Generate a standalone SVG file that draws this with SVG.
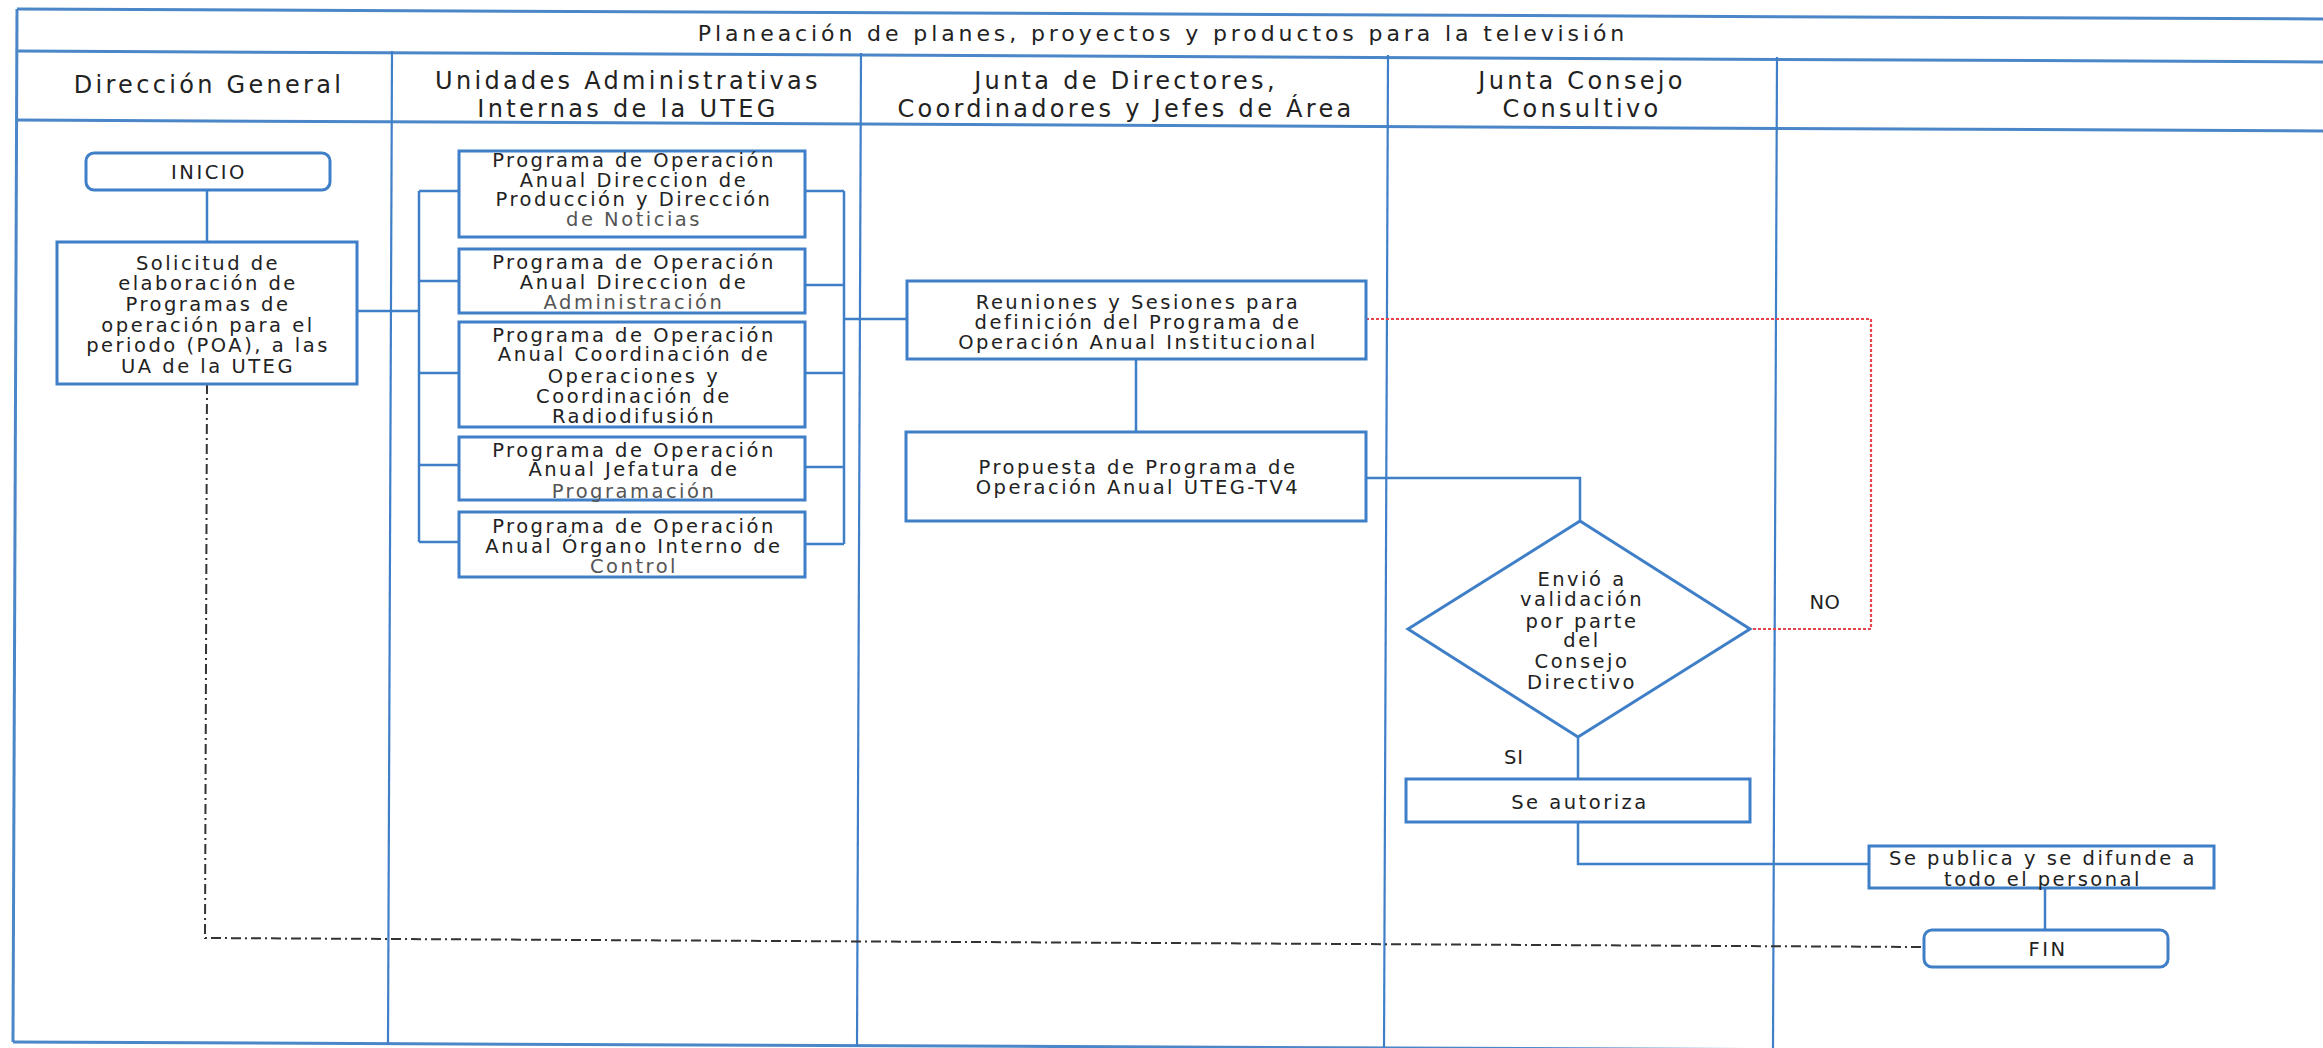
<svg xmlns="http://www.w3.org/2000/svg" width="2323" height="1048" viewBox="0 0 2323 1048">
<style>
.grid{stroke:#4a86c8;stroke-width:3;fill:none}
.div{stroke:#3f7fc8;stroke-width:2.2;fill:none}
.box{stroke:#3f7fc8;stroke-width:3;fill:#ffffff}
.ln{stroke:#3f7fc8;stroke-width:2.5;fill:none}
.red{stroke:#e8434b;stroke-width:2.2;fill:none;stroke-dasharray:3 2}
.dd{stroke:#333333;stroke-width:2;fill:none;stroke-dasharray:10 4 2 4}
text{font-family:"DejaVu Sans","Liberation Sans",sans-serif;fill:#222222;text-anchor:middle}
.t{font-size:22px;letter-spacing:3.9px}
.h{font-size:24px;letter-spacing:3.3px}
.b{font-size:19.5px;letter-spacing:2.5px}
.g{fill:#555555}
</style>
<rect x="0" y="0" width="2323" height="1048" fill="#ffffff"/>
<g id="frame">
<line class="grid" x1="17" y1="9" x2="2323" y2="19"/>
<line class="grid" x1="17" y1="51" x2="2323" y2="62"/>
<line class="grid" x1="17" y1="120" x2="2323" y2="131"/>
<line class="grid" x1="13" y1="1042" x2="2323" y2="1052"/>
<line class="grid" x1="17" y1="9" x2="13" y2="1042"/>
<line class="div" x1="392" y1="51" x2="388" y2="1044"/>
<line class="div" x1="861" y1="53" x2="857" y2="1046"/>
<line class="div" x1="1388" y1="55" x2="1384" y2="1048"/>
<line class="div" x1="1777" y1="57" x2="1773" y2="1048"/>
</g>
<g id="headers">
<text class="t" x="1163" y="41">Planeación de planes, proyectos y productos para la televisión</text>
<text class="h" x="209" y="93">Dirección General</text>
<text class="h" x="628" y="89">Unidades Administrativas</text>
<text class="h" x="628" y="117">Internas de la UTEG</text>
<text class="h" x="1126" y="89">Junta de Directores,</text>
<text class="h" x="1126" y="117">Coordinadores y Jefes de Área</text>
<text class="h" x="1582" y="89">Junta Consejo</text>
<text class="h" x="1582" y="117">Consultivo</text>
</g>
<g id="connectors">
<line class="ln" x1="207" y1="190" x2="207" y2="242"/>
<line class="ln" x1="357" y1="311" x2="419" y2="311"/>
<line class="ln" x1="419" y1="191" x2="419" y2="542"/>
<path class="ln" d="M419 191H459M419 281H459M419 373H459M419 465H459M419 542H459"/>
<path class="ln" d="M805 191H844M805 285H844M805 373H844M805 467H844M805 544H844"/>
<line class="ln" x1="844" y1="191" x2="844" y2="544"/>
<line class="ln" x1="844" y1="319" x2="907" y2="319"/>
<line class="ln" x1="1136" y1="359" x2="1136" y2="432"/>
<polyline class="ln" points="1366,478 1580,478 1580,521"/>
<line class="ln" x1="1578" y1="737" x2="1578" y2="779"/>
<polyline class="ln" points="1578,822 1578,864 1869,864"/>
<line class="ln" x1="2045" y1="888" x2="2045" y2="930"/>
<polyline class="red" points="1366,319 1871,319 1871,629 1750,629"/>
<polyline class="dd" points="207,384 205,938 1924,947"/>
<text class="b" x="1825" y="609" style="letter-spacing:0.5px">NO</text>
<text class="b" x="1514" y="764" style="letter-spacing:1px">SI</text>
</g>
<g id="inicio">
<rect class="box" x="86" y="153" width="244" height="37" rx="8"/>
<text class="b" x="209" y="179">INICIO</text>
</g>
<g id="solicitud">
<rect class="box" x="57" y="242" width="300" height="142"/>
<text class="b" x="208" y="270">Solicitud de</text>
<text class="b" x="208" y="290">elaboración de</text>
<text class="b" x="208" y="311">Programas de</text>
<text class="b" x="208" y="332">operación para el</text>
<text class="b" x="208" y="352">periodo (POA), a las</text>
<text class="b" x="208" y="373">UA de la UTEG</text>
</g>
<g id="poa-produccion">
<rect class="box" x="459" y="151" width="346" height="86"/>
<text class="b" x="634" y="167">Programa de Operación</text>
<text class="b" x="634" y="187">Anual Direccion de</text>
<text class="b" x="634" y="206">Producción y Dirección</text>
<text class="b g" x="634" y="226">de Noticias</text>
</g>
<g id="poa-administracion">
<rect class="box" x="459" y="249" width="346" height="64"/>
<text class="b" x="634" y="269">Programa de Operación</text>
<text class="b" x="634" y="289">Anual Direccion de</text>
<text class="b g" x="634" y="309">Administración</text>
</g>
<g id="poa-coordinacion">
<rect class="box" x="459" y="322" width="346" height="105"/>
<text class="b" x="634" y="342">Programa de Operación</text>
<text class="b" x="634" y="361">Anual Coordinación de</text>
<text class="b" x="634" y="383">Operaciones y</text>
<text class="b" x="634" y="403">Coordinación de</text>
<text class="b" x="634" y="423">Radiodifusión</text>
</g>
<g id="poa-programacion">
<rect class="box" x="459" y="437" width="346" height="63"/>
<text class="b" x="634" y="457">Programa de Operación</text>
<text class="b" x="634" y="476">Anual Jefatura de</text>
<text class="b g" x="634" y="498">Programación</text>
</g>
<g id="poa-oic">
<rect class="box" x="459" y="512" width="346" height="65"/>
<text class="b" x="634" y="533">Programa de Operación</text>
<text class="b" x="634" y="553">Anual Órgano Interno de</text>
<text class="b g" x="634" y="573">Control</text>
</g>
<g id="reuniones">
<rect class="box" x="907" y="281" width="459" height="78"/>
<text class="b" x="1138" y="309">Reuniones y Sesiones para</text>
<text class="b" x="1138" y="329">definición del Programa de</text>
<text class="b" x="1138" y="349">Operación Anual Institucional</text>
</g>
<g id="propuesta">
<rect class="box" x="906" y="432" width="460" height="89"/>
<text class="b" x="1138" y="474">Propuesta de Programa de</text>
<text class="b" x="1138" y="494">Operación Anual UTEG-TV4</text>
</g>
<g id="decision">
<polygon class="box" points="1580,521 1750,629 1578,737 1408,629"/>
<text class="b" x="1582" y="586">Envió a</text>
<text class="b" x="1582" y="606">validación</text>
<text class="b" x="1582" y="628">por parte</text>
<text class="b" x="1582" y="647">del</text>
<text class="b" x="1582" y="668">Consejo</text>
<text class="b" x="1582" y="689">Directivo</text>
</g>
<g id="autoriza">
<rect class="box" x="1406" y="779" width="344" height="43"/>
<text class="b" x="1580" y="809">Se autoriza</text>
</g>
<g id="publica">
<rect class="box" x="1869" y="846" width="345" height="42"/>
<text class="b" x="2043" y="865">Se publica y se difunde a</text>
<text class="b" x="2043" y="886">todo el personal</text>
</g>
<g id="fin">
<rect class="box" x="1924" y="930" width="244" height="37" rx="8"/>
<text class="b" x="2048" y="956">FIN</text>
</g>
</svg>
